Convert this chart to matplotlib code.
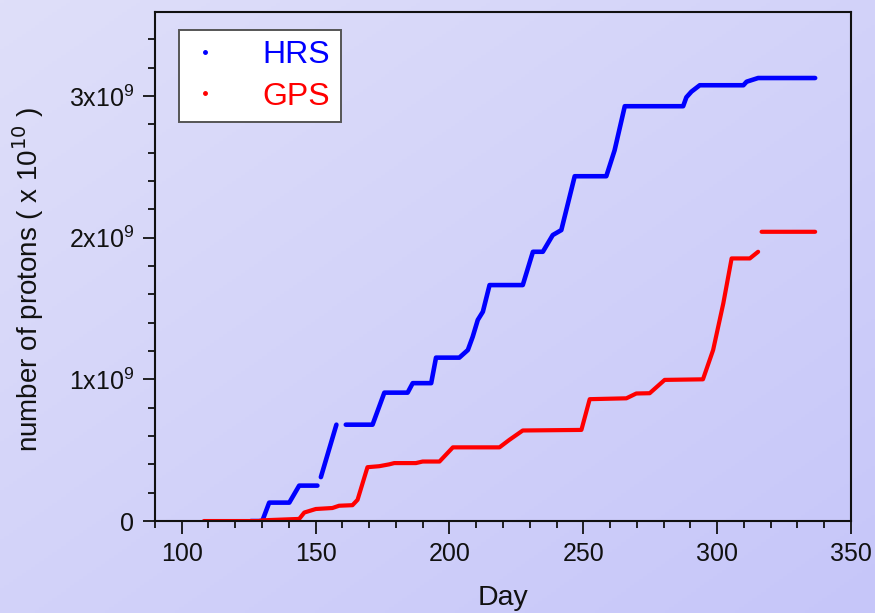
import numpy as np
import matplotlib
matplotlib.use("Agg")
import matplotlib.pyplot as plt
from matplotlib.ticker import FuncFormatter, MultipleLocator

plt.rcParams['font.family'] = ['Liberation Sans', 'DejaVu Sans']

# HRS curve (day, protons in units of 1e9); NaN marks a gap in the data
hrs_day = [125.8, 130.1, 132.7, 140.2, 143.9, 150.7, np.nan,
           152.0, 157.8, np.nan,
           161.3, 171.3, 175.7, 184.4, 186.3, 193.2, 195.0, 203.7, 206.9, 208.7,
           210.6, 212.5, 215.0, 227.4, 231.2, 234.9, 238.6, 241.8, 246.8, 258.6,
           261.7, 265.5, 287.3, 288.5, 290.4, 293.5, 309.8, 311.0, 315.3, 336.6]
hrs_val = [0.0, 0.0, 0.13, 0.13, 0.25, 0.25, np.nan,
           0.31, 0.68, np.nan,
           0.68, 0.68, 0.906, 0.906, 0.973, 0.973, 1.153, 1.153, 1.207, 1.30,
           1.419, 1.477, 1.665, 1.665, 1.90, 1.90, 2.018, 2.053, 2.433, 2.433,
           2.616, 2.927, 2.927, 2.99, 3.03, 3.075, 3.075, 3.10, 3.126, 3.126]

# GPS curve
gps_day = [108.3, 128.9, 130.0, 143.9, 145.8, 150.1, 156.3, 158.8, 163.8, 165.7,
           169.4, 173.8, 177.5, 179.4, 187.5, 190.0, 196.3, 201.3, 218.7, 222.4,
           227.4, 249.3, 252.4, 266.1, 269.8, 274.8, 280.4, 294.7, 298.5, 302.3,
           305.4, 312.2, 315.3, np.nan, 316.6, 336.6]
gps_val = [0.0, 0.0, 0.005, 0.015, 0.06, 0.085, 0.092, 0.108, 0.112, 0.15,
           0.38, 0.387, 0.40, 0.409, 0.409, 0.42, 0.42, 0.52, 0.52, 0.573,
           0.639, 0.643, 0.86, 0.866, 0.90, 0.902, 0.996, 1.0, 1.207, 1.536,
           1.853, 1.853, 1.90, np.nan, 2.041, 2.041]

y_ticks = [0, 1e9, 2e9, 3e9]

fig = plt.figure(figsize=(8.75, 6.13), dpi=100)

# lavender gradient background
bg = fig.add_axes([0, 0, 1, 1], zorder=-10)
yy, xx = np.mgrid[0:1:200j, 0:1:200j]
t = (xx + yy) / 2
c0 = np.array([223, 223, 249]) / 255
c1 = np.array([198, 198, 250]) / 255
grad = c0[None, None, :] * (1 - t[..., None]) + c1[None, None, :] * t[..., None]
bg.imshow(grad, aspect='auto', extent=[0, 1, 0, 1], origin='upper')
bg.axis('off')

ax = fig.add_axes([0.177, 0.150, 0.7956, 0.830])
ax.set_facecolor('none')

ax.plot(hrs_day, np.array(hrs_val) * 1e9, color='#0000ff', lw=3.3,
        solid_capstyle='round', solid_joinstyle='round')
ax.plot(gps_day, np.array(gps_val) * 1e9, color='#ff0000', lw=3.0,
        solid_capstyle='round', solid_joinstyle='round')

ax.set_xlim(90, 350)
ax.set_ylim(0, 3.59e9)
ax.xaxis.set_major_locator(MultipleLocator(50))
ax.xaxis.set_minor_locator(MultipleLocator(10))
ax.set_yticks(y_ticks)
ax.yaxis.set_minor_locator(MultipleLocator(0.2e9))


def yfmt(v, pos):
    if v == 0:
        return '0'
    return r'$\mathregular{%dx10^{9}}$' % round(v / 1e9)


ax.yaxis.set_major_formatter(FuncFormatter(yfmt))
ax.tick_params(which='major', length=9, width=1.3, labelsize=18, pad=6,
               color='#111111', labelcolor='#111111')
ax.tick_params(which='minor', length=5, width=1.3, color='#111111')
for s in ax.spines.values():
    s.set_linewidth(1.5)
    s.set_color('#111111')

ax.set_xlabel('Day', fontsize=20.5, color='#111111', labelpad=14)
ax.set_ylabel(r'number of protons ( x 10$^{10}$ )', fontsize=20,
              color='#111111')
ax.yaxis.set_label_coords(-0.156, 0.475)

# legend: tiny dots and coloured text
h1, = ax.plot([], [], ls='none', marker='o', ms=2.5, color='#0000ff')
h2, = ax.plot([], [], ls='none', marker='o', ms=2.5, color='#ff0000')
leg = ax.legend([h1, h2], ['HRS', 'GPS'], loc='upper left',
                bbox_to_anchor=(0.034, 0.966), fontsize=23,
                labelcolor=['#0000ff', '#ff0000'], frameon=True,
                fancybox=False, handlelength=1.0, handletextpad=1.3,
                borderpad=0.33, labelspacing=0.36, borderaxespad=0)
leg.get_frame().set_edgecolor('#555555')
leg.get_frame().set_linewidth(1.4)
leg.get_frame().set_facecolor('white')
leg.get_frame().set_alpha(1)

fig.savefig('out.png', dpi=100)
